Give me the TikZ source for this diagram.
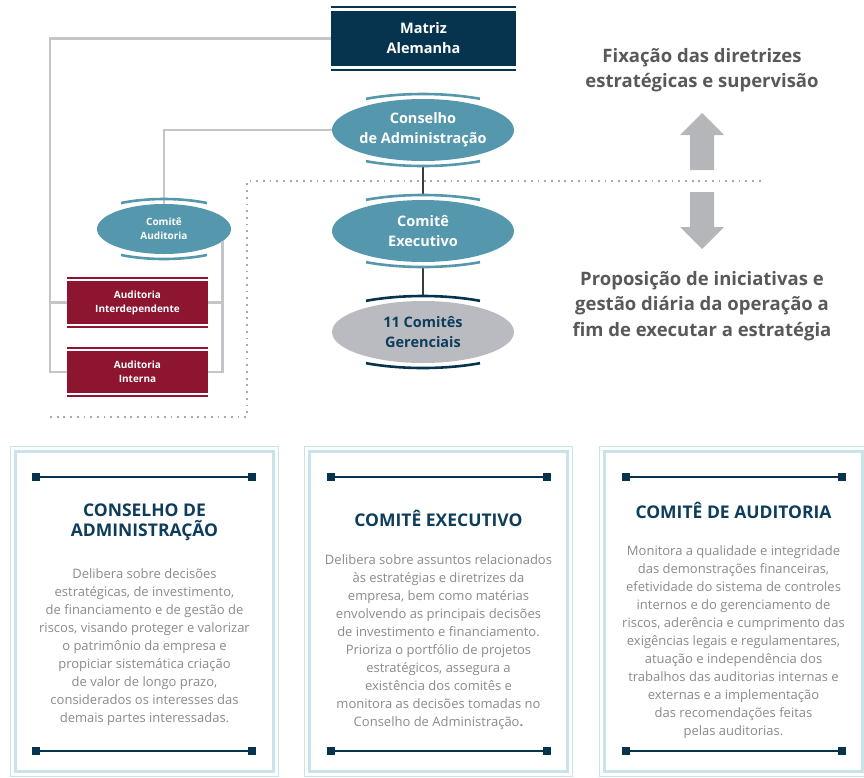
\documentclass[tikz,border=0pt]{standalone}
\usepackage{fontspec}
\setmainfont{Open Sans}
\usetikzlibrary{shapes.geometric}
\definecolor{cnavy}{HTML}{06344F}
\definecolor{cteal}{HTML}{5597AD}
\definecolor{cgrayel}{HTML}{B9BBC0}
\definecolor{cred}{HTML}{8E1530}
\definecolor{cconn}{HTML}{C4C5C9}
\definecolor{cdark}{HTML}{3C3C3C}
\definecolor{cpanel}{HTML}{C8E3EB}
\definecolor{ctitle}{HTML}{0E3D5B}
\definecolor{cbody}{HTML}{8A8A8A}
\definecolor{cside}{HTML}{58595B}
\definecolor{carrow}{HTML}{B5B6BA}
\definecolor{cdot}{HTML}{A8A9AD}
\newcommand\ellarcs[4]{%
  \draw[#4, line width=2.6pt] ([shift={(60:#2pt and #3pt)}]#1.center) arc[start angle=60,end angle=120,x radius=#2pt,y radius=#3pt];
  \draw[#4, line width=2.6pt] ([shift={(240:#2pt and #3pt)}]#1.center) arc[start angle=240,end angle=300,x radius=#2pt,y radius=#3pt];}
\newcommand\boxlines[3]{%
  \draw[#2, line width=1.5pt] ([yshift=#3pt]#1.north west) -- ([yshift=#3pt]#1.north east);
  \draw[#2, line width=1.5pt] ([yshift=-#3pt]#1.south west) -- ([yshift=-#3pt]#1.south east);}
\begin{document}
\begin{tikzpicture}[x=1pt,y=1pt,
  bigell/.style={ellipse, inner sep=0pt, minimum width=182pt, minimum height=62pt, align=center,
    font=\fontsize{14.5}{20}\selectfont\bfseries},
  navybox/.style={fill=cnavy, text=white, inner sep=0pt, align=center,
    font=\fontsize{14.5}{20}\selectfont\bfseries},
  redbox/.style={fill=cred, text=white, inner sep=0pt, minimum width=141pt, align=center,
    font=\fontsize{10}{14}\selectfont\bfseries},
  gconn/.style={cconn, line width=2.6pt},
  dconn/.style={cdark, line width=1.6pt},
  dotline/.style={cdot, line width=1.8pt, dash pattern=on 1.8pt off 4.9pt},
  sidetext/.style={text=cside, align=center, font=\fontsize{18.5}{25.5}\selectfont\bfseries},
  ptitle/.style={text=ctitle, align=center, font=\fontsize{17.5}{20}\selectfont\bfseries},
  pbody/.style={text=cbody, align=center, font=\fontsize{13}{18}\selectfont},
  sq/.style={fill=cnavy, inner sep=0pt, minimum size=8pt},
  decoline/.style={cnavy, line width=2pt}
]
\useasboundingbox (0,0) rectangle (864,-777);

% ---------- dotted separator ----------
\draw[dotline] (50,-417) -- (247,-417) -- (247,-181) -- (762,-181);

% ---------- nodes of the chart ----------
\node[navybox, minimum width=185pt, minimum height=55pt] (matriz) at (423.5,-38.5) {Matriz\\Alemanha};
\boxlines{matriz}{cnavy}{4}

\node[bigell, fill=cteal, text=white] (cons) at (423,-130) {Conselho\\de Administração};
\node[bigell, fill=cteal, text=white] (exec) at (423,-231) {Comitê\\Executivo};
\node[bigell, fill=cgrayel, text=ctitle] (ger) at (423,-332) {11 Comitês\\Gerenciais};
\node[ellipse, inner sep=0pt, minimum width=134pt, minimum height=50pt, fill=cteal, text=white,
  align=center, font=\fontsize{10}{14}\selectfont\bfseries] (comaud) at (164,-229) {Comitê\\Auditoria};

\node[redbox, minimum height=43pt] (interdep) at (137.5,-302.5) {Auditoria\\Interdependente};
\node[redbox, minimum height=42pt] (interna) at (137.5,-372) {Auditoria\\Interna};
\boxlines{interdep}{cred}{3}
\boxlines{interna}{cred}{3}

% ---------- connectors ----------
\coordinate (lx) at (50,-372);
\draw[gconn] (matriz.west) -| (lx) -- (interna.west);
\draw[gconn] (interdep.west) -- (interdep.west -| lx);
\draw[gconn] (cons.west) -| (comaud.north);
\draw[gconn] (comaud.-12) |- (interna.east);
\draw[gconn] (interdep.east) -- (interdep.east -| comaud.-12);

\draw[dconn] ([yshift=-6pt]cons.south) -- ([yshift=6pt]exec.north);
\draw[dconn] ([yshift=-6pt]exec.south) -- ([yshift=6pt]ger.north);

\ellarcs{cons}{114}{36}{cteal}
\ellarcs{exec}{114}{36}{cteal}
\ellarcs{ger}{114}{36}{cnavy}
\ellarcs{comaud}{86}{30}{cteal}

% ---------- side texts and arrows ----------
\node[sidetext] (fix) at (702,-70) {Fixação das diretrizes\\estratégicas e supervisão};
\node[sidetext] (prop) at (702,-306) {Proposição de iniciativas e\\gestão diária da operação a\\fim de executar a estratégia};
\fill[carrow] (702,-113) -- (724,-135) -- (714,-135) -- (714,-170) -- (690,-170) -- (690,-135) -- (680,-135) -- cycle;
\fill[carrow] (690,-192) -- (714,-192) -- (714,-227) -- (724,-227) -- (702,-249) -- (680,-227) -- (690,-227) -- cycle;

% ---------- panels ----------
\foreach \xa/\xb in {10.5/278.5, 304.5/572.5, 599.5/867.5}{
  \draw[cpanel, line width=1.2pt] (\xa,-446.5) rectangle (\xb,-776.5);
  \draw[cpanel, line width=3.5pt] (\xa+5,-451.5) rectangle (\xb-5,-771.5);
}
% decorative lines
\node[sq] (s1a) at (36,-477) {};  \node[sq] (s1b) at (252,-477) {};
\node[sq] (s1c) at (36,-751) {};  \node[sq] (s1d) at (252,-751) {};
\node[sq] (s2a) at (331,-477) {}; \node[sq] (s2b) at (547,-477) {};
\node[sq] (s2c) at (331,-751) {}; \node[sq] (s2d) at (547,-751) {};
\node[sq] (s3a) at (626,-477) {}; \node[sq] (s3b) at (842,-477) {};
\node[sq] (s3c) at (626,-751) {}; \node[sq] (s3d) at (842,-751) {};
\draw[decoline] (s1a) -- (s1b); \draw[decoline] (s1c) -- (s1d);
\draw[decoline] (s2a) -- (s2b); \draw[decoline] (s2c) -- (s2d);
\draw[decoline] (s3a) -- (s3b); \draw[decoline] (s3c) -- (s3d);

\node[ptitle] (t1) at (144.5,-522) {CONSELHO DE\\ADMINISTRAÇÃO};
\node[ptitle] (t2) at (438.5,-518) {COMITÊ EXECUTIVO};
\node[ptitle] (t3) at (733.5,-510) {COMITÊ DE AUDITORIA};

\node[pbody] (b1) at (144.5,-647) {Delibera sobre decisões\\
estratégicas, de investimento,\\
de financiamento e de gestão de\\
riscos, visando proteger e valorizar\\
o patrimônio da empresa e\\
propiciar sistemática criação\\
de valor de longo prazo,\\
considerados os interesses das\\
demais partes interessadas.};

\node[pbody] (b2) at (438.5,-642) {Delibera sobre assuntos relacionados\\
às estratégias e diretrizes da\\
empresa, bem como matérias\\
envolvendo as principais decisões\\
de investimento e financiamento.\\
Prioriza o portfólio de projetos\\
estratégicos, assegura a\\
existência dos comitês e\\
monitora as decisões tomadas no\\
Conselho de Administração{\bfseries .}};

\node[pbody] (b3) at (733.5,-642) {Monitora a qualidade e integridade\\
das demonstrações financeiras,\\
efetividade do sistema de controles\\
internos e do gerenciamento de\\
riscos, aderência e cumprimento das\\
exigências legais e regulamentares,\\
atuação e independência dos\\
trabalhos das auditorias internas e\\
externas e a implementação\\
das recomendações feitas\\
pelas auditorias.};
\end{tikzpicture}
\end{document}
